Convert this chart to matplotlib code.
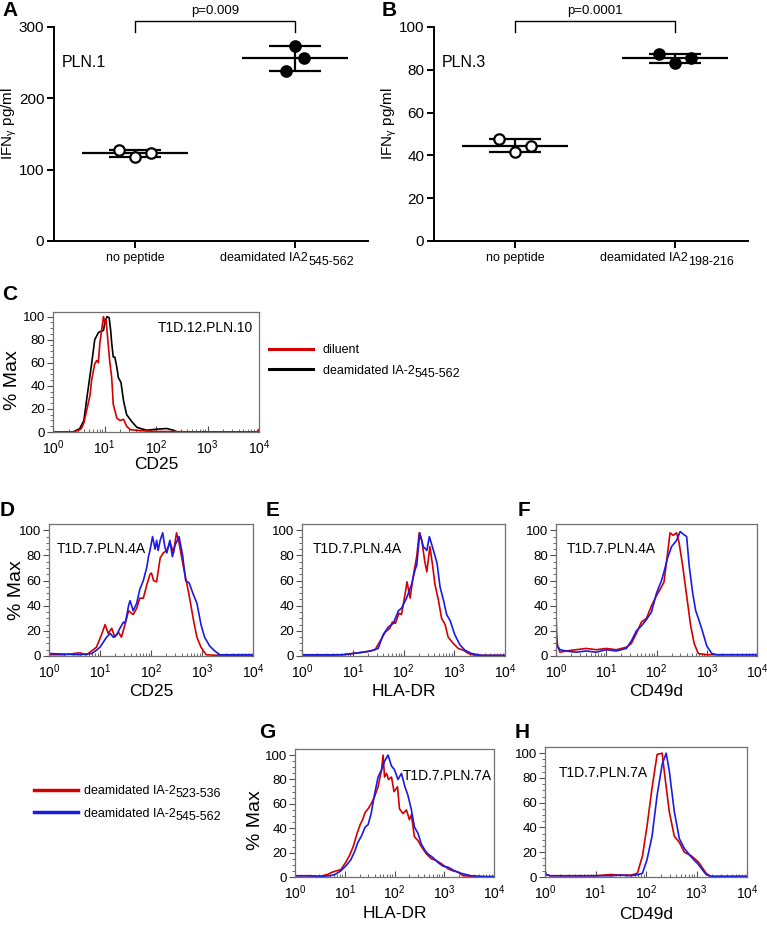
import numpy as np
import matplotlib
matplotlib.use('Agg')
import matplotlib.pyplot as plt
from matplotlib.ticker import LogLocator, NullFormatter, FixedLocator

plt.rcParams['font.family'] = ['Liberation Sans', 'DejaVu Sans']
plt.rcParams['mathtext.fontset'] = 'custom'
plt.rcParams['mathtext.rm'] = 'Liberation Sans'
plt.rcParams['mathtext.it'] = 'Liberation Sans:italic'
plt.rcParams['mathtext.bf'] = 'Liberation Sans:bold'

# ---------------- data ----------------
# A / B: IFNg pg/ml, three replicates per group (left -> right as plotted)
a_no_peptide = [128, 118, 123]
a_deamidated = [239, 273, 256]
b_no_peptide = [47.5, 41.5, 44.5]
b_deamidated = [87.5, 83.0, 85.5]

# flow histograms: position in decades (log10) and % of max
c_dil_dec = [0.0, 0.40, 0.46, 0.52, 0.55, 0.60, 0.65, 0.72, 0.75, 0.81, 0.85, 0.88, 0.91, 0.95, 0.98,
             1.01, 1.03, 1.07, 1.10, 1.14, 1.17, 1.24, 1.30, 1.37, 1.43, 1.50, 1.76, 2.00, 3.00, 3.97, 4.00]
c_dil_pct = [0, 0, 1, 2, 3, 8, 18, 32, 45, 59, 62, 60, 77, 90, 100,
             94, 97, 77, 62, 47, 24, 12, 10, 11, 5, 2, 1, 0.5, 0, 0, 2]
c_deam_dec = [0.0, 0.39, 0.52, 0.60, 0.65, 0.75, 0.81, 0.88, 0.91, 0.98, 1.01, 1.05, 1.09, 1.12, 1.14,
              1.17, 1.20, 1.24, 1.27, 1.32, 1.37, 1.43, 1.53, 1.63, 1.82, 2.02, 2.21, 2.34, 2.41, 4.0]
c_deam_pct = [0, 0, 3, 10, 27, 59, 80, 86, 87, 88, 96, 100, 99, 88, 77,
              65, 65, 56, 47, 43, 27, 15, 9, 4, 1.5, 2.5, 3, 1.5, 0, 0]

d_red_dec = [0.0, 0.3, 0.6, 0.74, 0.93, 1.03, 1.10, 1.16, 1.23, 1.29, 1.36, 1.42, 1.49, 1.56, 1.65,
             1.72, 1.78, 1.85, 1.92, 1.98, 2.01, 2.05, 2.11, 2.18, 2.24, 2.31, 2.37, 2.41, 2.44, 2.50,
             2.55, 2.64, 2.74, 2.84, 2.90, 2.98, 3.08, 3.30, 4.0]
d_red_pct = [1, 1, 2.5, 1, 7, 17, 25, 18, 22, 15, 19, 15, 25, 36, 33,
             38, 46, 46, 57, 65, 66, 60, 59, 78, 82, 84, 90, 86, 82, 98,
             90, 70, 50, 27, 15, 7, 1, 0.5, 0.5]
d_blue_dec = [0.0, 0.3, 0.6, 0.84, 0.93, 1.0, 1.13, 1.2, 1.26, 1.33, 1.39, 1.46, 1.49, 1.52, 1.56,
              1.59, 1.65, 1.72, 1.78, 1.85, 1.92, 1.95, 1.98, 2.03, 2.08, 2.11, 2.14, 2.18, 2.23, 2.27,
              2.31, 2.37, 2.42, 2.47, 2.55, 2.62, 2.68, 2.75, 2.82, 2.9, 2.98, 3.05, 3.15, 3.25, 3.35, 4.0]
d_blue_pct = [2, 1.5, 1, 2, 4.6, 7, 15, 18, 15, 17, 22, 27, 26, 31, 40,
              44, 36, 42, 53, 60, 71, 79, 84, 95, 85, 92, 84, 92, 98, 87,
              82, 92, 79, 88, 95, 80, 60, 58, 50, 42, 25, 15, 8, 4, 1, 1]

e_red_dec = [0.0, 0.5, 0.8, 1.0, 1.2, 1.35, 1.44, 1.57, 1.64, 1.73, 1.78, 1.84, 1.91, 1.96, 2.03, 2.07,
             2.13, 2.19, 2.26, 2.31, 2.36, 2.42, 2.46, 2.52, 2.57, 2.62, 2.69, 2.75, 2.82, 2.88, 2.98,
             3.08, 3.18, 3.28, 3.41, 4.0]
e_red_pct = [0.5, 0.5, 1, 2, 3, 4, 5, 14, 19, 22, 27, 26, 34, 33, 49, 59,
             46, 63, 79, 98, 92, 75, 67, 87, 73, 57, 44, 30, 25, 15, 10,
             6, 4.6, 2, 0.5, 0.5]
e_blue_dec = [0.0, 0.5, 0.8, 1.0, 1.2, 1.35, 1.5, 1.6, 1.7, 1.8, 1.9, 1.96, 2.06, 2.16, 2.23, 2.26,
              2.32, 2.39, 2.46, 2.51, 2.59, 2.66, 2.72, 2.79, 2.85, 2.92, 3.01, 3.11, 3.21, 3.34, 3.54, 4.0]
e_blue_pct = [1, 1, 1, 2, 3, 4, 6, 17, 23, 26, 36, 38, 46, 57, 69, 72,
              98, 87, 84, 95, 84, 74, 55, 44, 33, 28, 17, 9, 4.6, 2, 0.5, 0.5]

f_red_dec = [0.0, 0.01, 0.03, 0.08, 0.2, 0.4, 0.6, 0.8, 1.0, 1.2, 1.4, 1.5, 1.6, 1.7, 1.8, 1.9,
             2.0, 2.1, 2.15, 2.2, 2.27, 2.33, 2.4, 2.45, 2.52, 2.6, 2.68, 2.75, 2.83, 3.0, 4.0]
f_red_pct = [35, 20, 8, 3, 4, 5, 6, 5, 6, 5, 7, 10, 18, 27, 30, 40,
             48, 55, 59, 75, 98, 96, 98, 90, 72, 48, 24, 10, 2, 1, 1]
f_blue_dec = [0.0, 0.01, 0.03, 0.08, 0.2, 0.4, 0.6, 0.8, 1.0, 1.2, 1.4, 1.5, 1.6, 1.7, 1.8, 1.9,
              2.0, 2.1, 2.15, 2.22, 2.3, 2.4, 2.47, 2.53, 2.6, 2.65, 2.72, 2.78, 2.85, 2.92, 3.0,
              3.1, 3.2, 4.0]
f_blue_pct = [2, 12, 8, 5, 4, 3, 4, 3, 5, 4, 6, 12, 20, 24, 29, 35,
              50, 60, 67, 78, 87, 92, 99, 97, 95, 72, 50, 36, 28, 19, 8,
              2, 1, 1]

g_red_dec = [0.0, 0.3, 0.5, 0.65, 0.75, 0.83, 0.92, 1.02, 1.1, 1.17, 1.25, 1.31, 1.36, 1.41, 1.47,
             1.53, 1.6, 1.67, 1.74, 1.77, 1.8, 1.84, 1.88, 1.94, 1.99, 2.06, 2.1, 2.17, 2.24, 2.3,
             2.34, 2.4, 2.47, 2.54, 2.64, 2.74, 2.84, 2.94, 3.08, 3.18, 3.28, 3.38, 3.75, 4.0]
g_red_pct = [1, 1, 0.5, 2, 4, 5, 6, 12, 18, 25, 36, 43, 47, 53, 56,
             60, 66, 74, 88, 100, 82, 85, 80, 82, 70, 74, 56, 52, 55, 47,
             51, 33, 30, 25, 19, 15, 13.5, 11, 6.6, 5, 4, 1, 0.3, 0.3]
g_blue_dec = [0.0, 0.3, 0.5, 0.7, 0.8, 0.92, 1.02, 1.12, 1.2, 1.26, 1.34, 1.41, 1.47, 1.53, 1.6,
              1.67, 1.74, 1.8, 1.87, 1.94, 2.0, 2.07, 2.14, 2.21, 2.27, 2.34, 2.4, 2.47, 2.54, 2.61,
              2.67, 2.77, 2.87, 2.97, 3.08, 3.21, 3.34, 3.54, 3.81, 4.0]
g_blue_pct = [1, 1, 0.5, 1, 2, 5, 9, 14, 21, 28, 34, 41, 43, 52, 68,
              82, 88, 95, 100, 91, 88, 80, 85, 74, 67, 55, 41, 36, 27, 22,
              19, 16, 12, 9, 8, 5, 3, 1, 0.3, 0.3]

h_red_dec = [0.0, 0.02, 0.1, 0.5, 1.0, 1.3, 1.5, 1.7, 1.83, 1.93, 2.02, 2.12, 2.22, 2.32, 2.36,
             2.46, 2.56, 2.66, 2.76, 2.9, 3.04, 3.19, 3.28, 4.0]
h_red_pct = [6, 2, 1, 1, 1, 2, 1.5, 1.5, 3, 17, 41, 72, 99, 100, 86,
             53, 33, 28, 20, 17, 12, 3, 0.5, 0.5]
h_blue_dec = [0.0, 0.02, 0.1, 0.5, 1.0, 1.3, 1.5, 1.7, 1.85, 1.93, 2.02, 2.12, 2.22, 2.32, 2.4,
              2.46, 2.56, 2.66, 2.76, 2.9, 3.04, 3.19, 3.28, 4.0]
h_blue_pct = [5, 2, 1, 1, 1, 1, 1.5, 1, 2, 3, 14, 33, 66, 91, 100,
              86, 53, 31, 23, 16, 10, 2, 0.5, 0.5]

RED = '#d40000'
BLUE = '#1a1ae6'
W, H = 767, 926

fig = plt.figure(figsize=(W / 100, H / 100), dpi=100)


def rect(x0, y0, x1, y1):
    # pixel box (left, top, right, bottom) -> figure fraction
    return [x0 / W, 1 - y1 / H, (x1 - x0) / W, (y1 - y0) / H]


def subscript(ax, txt, sub, size):
    ax.annotate(sub, xy=(1, 0), xycoords=txt, xytext=(0.2, -2.5),
                textcoords='offset points', ha='left', va='bottom',
                fontsize=size, zorder=6)


def dot_panel(box, open_vals, filled_vals, filled_jit, ymax, ystep, tag, pval, sub):
    ax = fig.add_axes(rect(*box))
    groups = [(open_vals, 'white', 0.1), (filled_vals, 'black', filled_jit)]
    for i, (vals, face, jit) in enumerate(groups):
        m, sd = np.mean(vals), np.std(vals, ddof=1)
        ax.hlines(m, i - 0.33, i + 0.33, color='black', lw=1.6, zorder=2)
        ax.errorbar(i, m, yerr=sd, fmt='none', ecolor='black', elinewidth=1.6,
                    capsize=18.7, capthick=1.6, zorder=2)
        ax.plot(i + np.array([-jit, 0, jit]), vals, 'o', ms=7.5, mfc=face,
                mec='black', mew=1.6, zorder=3)
    ax.set_xlim(-0.506, 1.456)
    ax.set_ylim(0, ymax)
    ax.set_yticks(np.arange(0, ymax + 1, ystep))
    ax.set_xticks([0, 1])
    ax.set_xticklabels(['no peptide', ''])
    for s in ['top', 'right']:
        ax.spines[s].set_visible(False)
    for s in ['left', 'bottom']:
        ax.spines[s].set_linewidth(1.4)
    ax.tick_params(axis='y', labelsize=11, width=1.4, length=5, pad=2)
    ax.tick_params(axis='x', labelsize=9, width=1.4, length=5, pad=3)
    ax.set_ylabel(r'IFN$_{\mathregular{γ}}$ pg/ml', fontsize=11)
    ax.yaxis.set_label_coords(-0.112, 0.55)
    t = ax.annotate('deamidated IA2', xy=(1.08, 0), xycoords=('data', 'axes fraction'),
                    xytext=(0, -8), textcoords='offset points', ha='right', va='top',
                    fontsize=9)
    subscript(ax, t, sub, 9)
    ax.plot([0, 0, 1, 1], [ymax * 0.977, ymax * 1.027, ymax * 1.027, ymax * 0.977],
            color='black', lw=1, clip_on=False)
    ax.text(0.5, ymax * 1.075, pval, ha='center', va='center', fontsize=9.5)
    ax.text(0.025, 0.836, tag, transform=ax.transAxes, fontsize=11.5, va='center')
    return ax


def flow_panel(box, curves, tag, tag_x, tag_y, tag_ha, xlab, xlab_y, ymax=105, ylab=None):
    ax = fig.add_axes(rect(*box))
    lines = []
    for dec, pct, col in curves:
        ln, = ax.plot(10.0 ** np.asarray(dec), pct, color=col, lw=1.2)
        lines.append(ln)
    ax.set_xscale('log')
    ax.set_xlim(1, 1e4)
    ax.set_ylim(0, ymax)
    ax.xaxis.set_major_locator(LogLocator(base=10, numticks=10))
    ax.xaxis.set_minor_locator(LogLocator(base=10, subs=np.arange(2, 10), numticks=10))
    ax.xaxis.set_minor_formatter(NullFormatter())
    ax.set_yticks(np.arange(0, 101, 20))
    ax.yaxis.set_minor_locator(FixedLocator(np.arange(0, 101, 5)))
    for s in ax.spines.values():
        s.set_color('#707070')
        s.set_linewidth(0.9)
    ax.tick_params(axis='y', which='major', labelsize=9.5, length=4, width=0.8,
                   color='#505050', pad=1.5)
    ax.tick_params(axis='y', which='minor', length=2, width=0.6, color='#505050')
    ax.tick_params(axis='x', which='major', direction='in', labelsize=10, length=4,
                   width=0.8, color='#505050', pad=4.5)
    ax.tick_params(axis='x', which='minor', direction='in', length=2.5, width=0.6,
                   color='#505050')
    ax.text(tag_x, tag_y, tag, transform=ax.transAxes, ha=tag_ha, va='center', fontsize=10)
    ax.set_xlabel(xlab, fontsize=12.5)
    ax.xaxis.set_label_coords(0.5, xlab_y)
    if ylab is not None:
        ax.set_ylabel('% Max', fontsize=14)
        ax.yaxis.set_label_coords(*ylab)
    return ax, lines


# ---------------- A, B ----------------
dot_panel((54, 27, 368, 241), a_no_peptide, a_deamidated, 0.055, 300, 100,
          'PLN.1', 'p=0.009', '545-562')
dot_panel((434, 27, 748, 241), b_no_peptide, b_deamidated, 0.1, 100, 20,
          'PLN.3', 'p=0.0001', '198-216')

# ---------------- C ----------------
ax_c, c_lines = flow_panel((53, 312, 259, 432),
                           [(c_deam_dec, c_deam_pct, 'black'), (c_dil_dec, c_dil_pct, RED)],
                           'T1D.12.PLN.10', 0.97, 0.867, 'right', 'CD25', -0.205,
                           ymax=104, ylab=(-0.153, 0.43))
leg_c = ax_c.legend(handles=[c_lines[1], c_lines[0]], labels=['diluent', 'deamidated IA-2'],
                    loc='upper left', bbox_to_anchor=(269 / W, 1 - 344 / H),
                    bbox_transform=fig.transFigure, frameon=False, fontsize=9,
                    handlelength=3.5, handletextpad=0.8, labelspacing=0.7,
                    borderpad=0, borderaxespad=0)
for ln in leg_c.get_lines():
    ln.set_linewidth(2.2)
subscript(ax_c, leg_c.get_texts()[1], '545-562', 9)

# ---------------- D, E, F ----------------
flow_panel((49, 524, 253, 656), [(d_red_dec, d_red_pct, RED), (d_blue_dec, d_blue_pct, BLUE)],
           'T1D.7.PLN.4A', 0.038, 0.813, 'left', 'CD25', -0.21, ylab=(-0.12, 0.5))
flow_panel((302, 524, 505, 656), [(e_red_dec, e_red_pct, RED), (e_blue_dec, e_blue_pct, BLUE)],
           'T1D.7.PLN.4A', 0.054, 0.813, 'left', 'HLA-DR', -0.21)
flow_panel((556, 524, 757, 656), [(f_red_dec, f_red_pct, RED), (f_blue_dec, f_blue_pct, BLUE)],
           'T1D.7.PLN.4A', 0.055, 0.813, 'left', 'CD49d', -0.21)

# ---------------- G, H ----------------
ax_g, g_lines = flow_panel((295, 749, 494, 877),
                           [(g_red_dec, g_red_pct, RED), (g_blue_dec, g_blue_pct, BLUE)],
                           'T1D.7.PLN.7A', 0.543, 0.79, 'left', 'HLA-DR', -0.23,
                           ylab=(-0.158, 0.445))
flow_panel((545, 747, 747, 877), [(h_red_dec, h_red_pct, RED), (h_blue_dec, h_blue_pct, BLUE)],
           'T1D.7.PLN.7A', 0.069, 0.80, 'left', 'CD49d', -0.23)

leg_g = ax_g.legend(handles=g_lines, labels=['deamidated IA-2', 'deamidated IA-2'],
                    loc='upper left', bbox_to_anchor=(34 / W, 1 - 785 / H),
                    bbox_transform=fig.transFigure, frameon=False, fontsize=9,
                    handlelength=3.5, handletextpad=0.48, labelspacing=0.85,
                    borderpad=0, borderaxespad=0)
for ln in leg_g.get_lines():
    ln.set_linewidth(2.5)
subscript(ax_g, leg_g.get_texts()[0], '523-536', 9)
subscript(ax_g, leg_g.get_texts()[1], '545-562', 9)

# ---------------- panel letters ----------------
for letter, x, y in [('A', 2, 11), ('B', 382, 11), ('C', 2, 295), ('D', 0, 510),
                     ('E', 266, 510), ('F', 518, 510), ('G', 259, 733), ('H', 515, 733)]:
    fig.text(x / W, 1 - y / H, letter, fontsize=15, fontweight='bold', va='center', ha='left')

fig.savefig('out.png', dpi=100)
